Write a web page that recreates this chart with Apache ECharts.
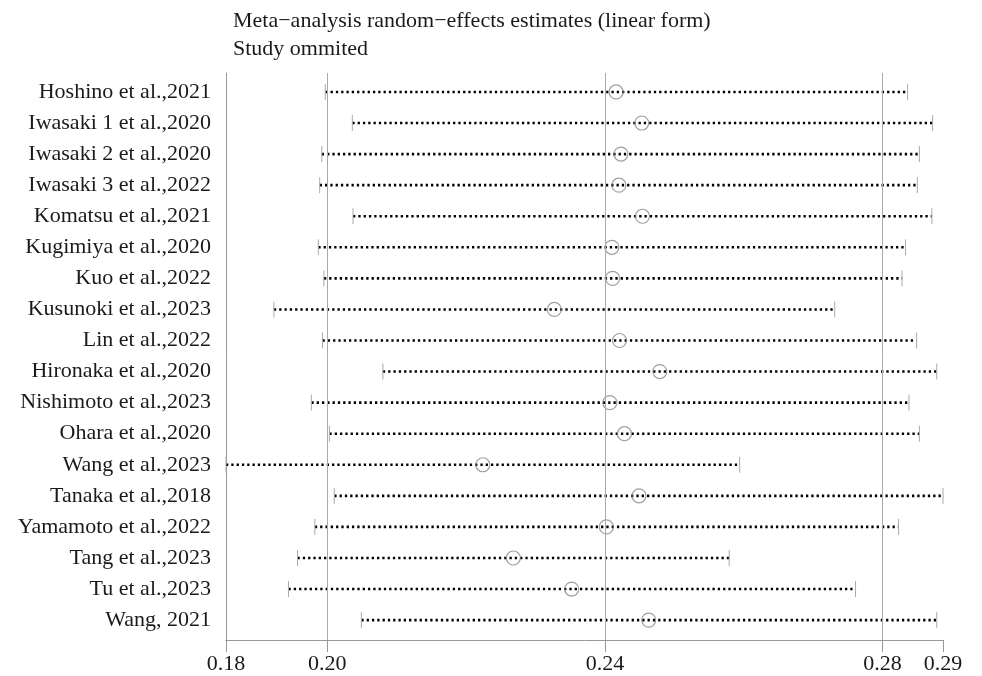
<!DOCTYPE html>
<html>
<head>
<meta charset="utf-8">
<script src="https://cdn.jsdelivr.net/npm/echarts@6/dist/echarts.min.js"></script>
<style>
  html, body { margin: 0; padding: 0; background: #fff; }
  #chart { width: 982px; height: 676px; }
</style>
</head>
<body>
<div id="chart"></div>
<script>
const studies = [
  'Hoshino et al.,2021', 'Iwasaki 1 et al.,2020', 'Iwasaki 2 et al.,2020',
  'Iwasaki 3 et al.,2022', 'Komatsu et al.,2021', 'Kugimiya et al.,2020',
  'Kuo et al.,2022', 'Kusunoki et al.,2023', 'Lin et al.,2022',
  'Hironaka et al.,2020', 'Nishimoto et al.,2023', 'Ohara et al.,2020',
  'Wang et al.,2023', 'Tanaka et al.,2018', 'Yamamoto et al.,2022',
  'Tang et al.,2023', 'Tu et al.,2023', 'Wang, 2021'
]
const estimate = [
  0.2416, 0.2453, 0.2423, 0.2420, 0.2454, 0.2410,
  0.2411, 0.2327, 0.2421, 0.2479, 0.2407, 0.2428,
  0.2224, 0.2449, 0.2402, 0.2268, 0.2352, 0.2463
]
const lower = [
  0.1997, 0.2036, 0.1992, 0.1989, 0.2037, 0.1987,
  0.1995, 0.1923, 0.1993, 0.2080, 0.1977, 0.2003,
  0.1854, 0.2010, 0.1982, 0.1957, 0.1944, 0.2049
]
const upper = [
  0.2836, 0.2872, 0.2853, 0.2850, 0.2871, 0.2833,
  0.2828, 0.2731, 0.2849, 0.2878, 0.2838, 0.2853,
  0.2594, 0.2887, 0.2823, 0.2579, 0.2761, 0.2878
]
const tickValues = [0.1854, 0.20, 0.24, 0.28, 0.2887]
const tickLabels = ['0.18', '0.20', '0.24', '0.28', '0.29']
const refLines = [0.20, 0.24, 0.28]

const font = 'Liberation Serif'
const rows = studies.map((s, i) => i + 1)

const chart = echarts.init(document.getElementById('chart'), null, { renderer: 'canvas' })

// 置信区间：虚线 + 两端竖线
function renderCI (params, api) {
  const y = api.value(0)
  const lo = api.coord([api.value(1), y])
  const hi = api.coord([api.value(3), y])
  const h = 8
  return {
    type: 'group',
    children: [
      {
        type: 'line',
        shape: { x1: lo[0], y1: lo[1], x2: hi[0], y2: hi[1] },
        style: { stroke: '#000', lineWidth: 2.6, lineDash: [2.3, 3.0] }
      },
      {
        type: 'line',
        shape: { x1: lo[0], y1: lo[1] - h, x2: lo[0], y2: lo[1] + h },
        style: { stroke: '#aaa', lineWidth: 1 }
      },
      {
        type: 'line',
        shape: { x1: hi[0], y1: hi[1] - h, x2: hi[0], y2: hi[1] + h },
        style: { stroke: '#aaa', lineWidth: 1 }
      }
    ]
  }
}

const option = {
  animation: false,
  backgroundColor: '#fff',
  title: {
    text: 'Meta\u2212analysis random\u2212effects estimates (linear form)\nStudy ommited',
    left: 228,
    top: 2,
    textStyle: {
      fontFamily: font,
      fontSize: 22,
      fontWeight: 'normal',
      color: '#1a1a1a',
      lineHeight: 28
    }
  },
  grid: { left: 226, right: 39, top: 73, bottom: 36 },
  xAxis: {
    type: 'value',
    min: tickValues[0],
    max: tickValues[tickValues.length - 1],
    axisLine: { show: true, lineStyle: { color: '#999', width: 1 } },
    axisTick: {
      show: true,
      customValues: tickValues,
      length: 12,
      lineStyle: { color: '#999' }
    },
    axisLabel: {
      customValues: tickValues,
      margin: 13,
      fontFamily: font,
      fontSize: 22,
      color: '#1a1a1a',
      formatter: v => {
        let best = 0
        tickValues.forEach((t, i) => {
          if (Math.abs(t - v) < Math.abs(tickValues[best] - v)) best = i
        })
        return tickLabels[best]
      }
    },
    splitLine: { show: false }
  },
  yAxis: {
    type: 'value',
    inverse: true,
    min: 0.39,
    max: 18.64,
    axisLine: { show: true, lineStyle: { color: '#999', width: 1 } },
    axisTick: { show: false },
    splitLine: { show: false },
    axisLabel: {
      customValues: rows,
      margin: 15,
      fontFamily: font,
      fontSize: 22,
      color: '#1a1a1a',
      formatter: v => studies[Math.round(v) - 1] || ''
    }
  },
  series: [
    {
      type: 'custom',
      renderItem: renderCI,
      encode: { x: [1, 2, 3], y: 0 },
      data: rows.map((r, i) => [r, lower[i], estimate[i], upper[i]]),
      z: 2,
      markLine: {
        silent: true,
        symbol: 'none',
        label: { show: false },
        lineStyle: { color: '#aaa', width: 1, type: 'solid' },
        data: refLines.map(v => ({ xAxis: v }))
      }
    },
    {
      type: 'scatter',
      symbol: 'circle',
      symbolSize: 14,
      itemStyle: { color: 'transparent', borderColor: '#888', borderWidth: 1.2 },
      data: rows.map((r, i) => [estimate[i], r]),
      z: 3
    }
  ]
}

chart.setOption(option)
</script>
</body>
</html>
